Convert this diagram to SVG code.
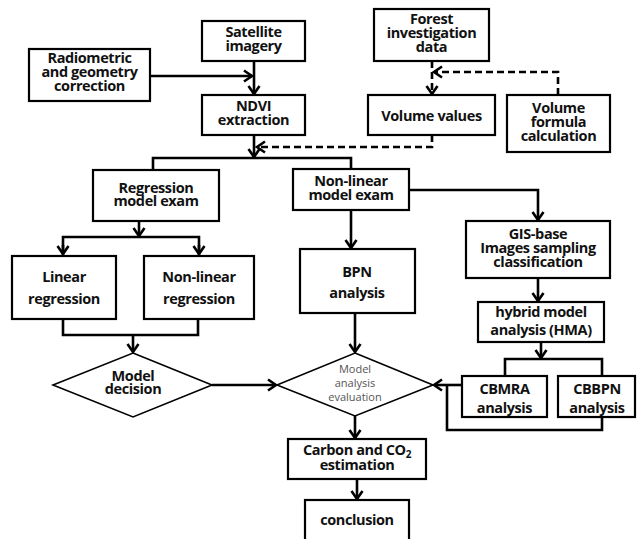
<svg xmlns="http://www.w3.org/2000/svg" width="637" height="539" viewBox="0 0 637 539">
<defs>
<marker id="ah" markerUnits="userSpaceOnUse" markerWidth="14" markerHeight="14" viewBox="-10 -7 12 14" refX="0" refY="0" orient="auto">
<path d="M-8,-5.5 L0,0 L-8,5.5" fill="none" stroke="#000" stroke-width="2.6" stroke-linejoin="miter"/>
</marker>
<style>
.box{fill:#fff;stroke:#000;stroke-width:2.2}
.dia{fill:#fff;stroke:#000;stroke-width:1.6}
.t{font-family:"Open Sans","Liberation Sans",sans-serif;font-weight:bold;font-size:14.5px;fill:#111;text-anchor:middle;letter-spacing:-0.4px}
.s{font-family:"Open Sans","Liberation Sans",sans-serif;font-size:11px;fill:#555;text-anchor:middle}
.c{fill:none;stroke:#000;stroke-width:2.6}
.d{fill:none;stroke:#000;stroke-width:2.6;stroke-dasharray:7,4}
</style>
</defs>
<rect width="637" height="539" fill="#fff"/>

<g id="connectors">
<path class="c" d="M150,76 H252" marker-end="url(#ah)"/>
<path class="c" d="M254,61 V94" marker-end="url(#ah)"/>
<path class="c" d="M254,135 V157" marker-end="url(#ah)"/>
<path class="c" d="M153,170 V158 H351 V169"/>
<path class="d" d="M432,61 V94" marker-end="url(#ah)"/>
<path class="d" d="M558,95 V72 H434" marker-end="url(#ah)"/>
<path class="d" d="M432,135 V147 H257" marker-end="url(#ah)"/>
<path class="c" d="M139,221 V236" marker-end="url(#ah)"/>
<path class="c" d="M63,255 V237 H199 V255"/>
<path class="c" d="M63,245 V254" marker-end="url(#ah)"/>
<path class="c" d="M199,245 V254" marker-end="url(#ah)"/>
<path class="c" d="M351,210 V248" marker-end="url(#ah)"/>
<path class="c" d="M409,190 H538 V220" marker-end="url(#ah)"/>
<path class="c" d="M538,278 V301" marker-end="url(#ah)"/>
<path class="c" d="M63,319 V335 H198 V319"/>
<path class="c" d="M133,335 V352" marker-end="url(#ah)"/>
<path class="c" d="M212,385 H276" marker-end="url(#ah)"/>
<path class="c" d="M355,313 V352" marker-end="url(#ah)"/>
<path class="c" d="M541,342 V358" marker-end="url(#ah)"/>
<path class="c" d="M505,376 V359 H602 V377"/>
<path class="c" d="M602,417 V430 H447 V385"/>
<path class="c" d="M462,385 H434" marker-end="url(#ah)"/>
<path class="c" d="M355,416 V438" marker-end="url(#ah)"/>
<path class="c" d="M357,479 V499" marker-end="url(#ah)"/>
</g>

<g id="satellite"><rect class="box" x="202" y="21" width="103" height="40"/><text class="t" x="253.5" y="37">Satellite</text><text class="t" x="253.5" y="51">imagery</text></g>
<g id="radiometric"><rect class="box" x="29" y="49" width="121" height="52"/><text class="t" x="89.5" y="63">Radiometric</text><text class="t" x="89.5" y="77">and geometry</text><text class="t" x="89.5" y="91">correction</text></g>
<g id="ndvi"><rect class="box" x="202" y="95" width="103" height="40"/><text class="t" x="253.5" y="111">NDVI</text><text class="t" x="253.5" y="125">extraction</text></g>
<g id="forest"><rect class="box" x="374" y="9" width="115" height="52"/><text class="t" x="431.5" y="24">Forest</text><text class="t" x="431.5" y="38">investigation</text><text class="t" x="431.5" y="52">data</text></g>
<g id="volume-values"><rect class="box" x="368" y="95" width="127" height="40"/><text class="t" x="431.5" y="121">Volume values</text></g>
<g id="volume-formula"><rect class="box" x="507" y="95" width="103" height="57"/><text class="t" x="558.5" y="113">Volume</text><text class="t" x="558.5" y="127">formula</text><text class="t" x="558.5" y="141">calculation</text></g>
<g id="regression"><rect class="box" x="93" y="170" width="126" height="51"/><text class="t" x="156" y="193">Regression</text><text class="t" x="156" y="206">model exam</text></g>
<g id="nonlinear-exam"><rect class="box" x="293" y="169" width="116" height="41"/><text class="t" x="351" y="186">Non-linear</text><text class="t" x="351" y="200">model exam</text></g>
<g id="linear-reg"><rect class="box" x="12" y="256" width="104" height="63"/><text class="t" x="64" y="282">Linear</text><text class="t" x="64" y="304">regression</text></g>
<g id="nonlinear-reg"><rect class="box" x="144" y="256" width="110" height="63"/><text class="t" x="199" y="282">Non-linear</text><text class="t" x="199" y="304">regression</text></g>
<g id="bpn"><rect class="box" x="300" y="249" width="115" height="64"/><text class="t" x="357" y="277">BPN</text><text class="t" x="357" y="298">analysis</text></g>
<g id="gis"><rect class="box" x="466" y="221" width="144" height="57"/><text class="t" x="538" y="239">GIS-base</text><text class="t" x="538" y="253">Images sampling</text><text class="t" x="538" y="267">classification</text></g>
<g id="hma"><rect class="box" x="478" y="302" width="126" height="40"/><text class="t" x="541" y="317">hybrid model</text><text class="t" x="541" y="335">analysis (HMA)</text></g>
<g id="model-decision"><polygon class="dia" points="133,353 212,385 133,417 53,385"/><text class="t" x="133" y="381">Model</text><text class="t" x="133" y="394">decision</text></g>
<g id="model-eval"><polygon class="dia" points="355,353 433,385 355,416 277,385"/><text class="s" x="355" y="373">Model</text><text class="s" x="355" y="387">analysis</text><text class="s" x="355" y="401">evaluation</text></g>
<g id="cbmra"><rect class="box" x="462" y="376" width="85" height="41"/><text class="t" x="504.5" y="394">CBMRA</text><text class="t" x="504.5" y="413">analysis</text></g>
<g id="cbbpn"><rect class="box" x="558" y="376" width="77" height="41"/><text class="t" x="597" y="394">CBBPN</text><text class="t" x="597" y="413">analysis</text></g>
<g id="carbon"><rect class="box" x="288" y="439" width="138" height="40"/><text class="t" x="357" y="455">Carbon and CO<tspan font-size="10" dy="3">2</tspan></text><text class="t" x="357" y="470">estimation</text></g>
<g id="conclusion"><rect class="box" x="305" y="500" width="104" height="50"/><text class="t" x="357" y="525">conclusion</text></g>
</svg>
